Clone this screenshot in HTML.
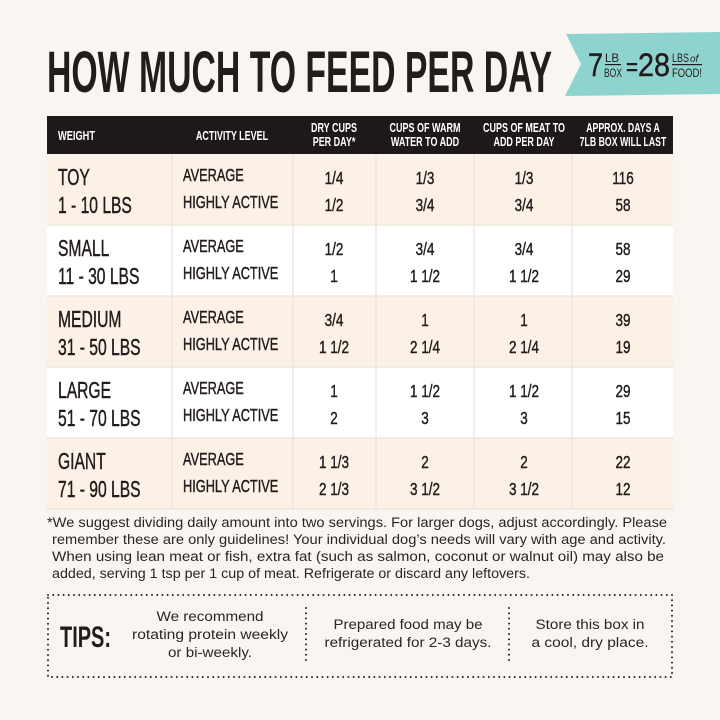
<!DOCTYPE html>
<html><head><meta charset="utf-8"><style>
html,body{margin:0;padding:0;background:#f9f6f1;}
svg{display:block}
.c{font-family:"Liberation Sans",sans-serif;fill:#231c1c}
.b{font-weight:bold}
.w{fill:#fff}
.f{font-family:"Liberation Sans",sans-serif;fill:#2a2424;font-size:13.4px}
.t{stroke:#231c1c;stroke-width:.45}
</style></head><body>
<svg width="720" height="720" viewBox="0 0 720 720" xmlns="http://www.w3.org/2000/svg">
<rect width="720" height="720" fill="#f9f6f1"/>
<text class="c b" x="47" y="92" font-size="58" textLength="505" lengthAdjust="spacingAndGlyphs">HOW MUCH TO FEED PER DAY</text>
<polygon points="566,34 720,32 720,94 565,96 581,64" fill="#8fd3cf"/>
<text class="c t" x="588" y="76" font-size="32" textLength="15" lengthAdjust="spacingAndGlyphs">7</text>
<text class="c" x="605" y="62" font-size="12" textLength="14" lengthAdjust="spacingAndGlyphs">LB</text>
<rect x="605" y="64" width="16" height="1.2" fill="#231c1c"/>
<text class="c" x="604" y="77" font-size="12" textLength="18" lengthAdjust="spacingAndGlyphs">BOX</text>
<text class="c t" x="626" y="75" font-size="24" textLength="12" lengthAdjust="spacingAndGlyphs">=</text>
<text class="c t" x="638" y="76" font-size="32" textLength="32" lengthAdjust="spacingAndGlyphs">28</text>
<text class="c" x="672" y="62" font-size="12" textLength="17" lengthAdjust="spacingAndGlyphs">LBS</text>
<text class="c" x="690" y="62" font-size="10" font-style="italic" font-family="Liberation Serif,serif">of</text>
<rect x="672" y="64" width="30" height="1.2" fill="#231c1c"/>
<text class="c" x="672" y="77" font-size="12" textLength="30" lengthAdjust="spacingAndGlyphs">FOOD!</text>

<rect x="47" y="116" width="626" height="38" fill="#1f1818"/>
<g class="c b w" font-size="12.5">
<text class="w" transform="translate(58,140) scale(.74,1)">WEIGHT</text>
<text class="w" text-anchor="middle" transform="translate(232,140) scale(.72,1)">ACTIVITY LEVEL</text>
<text class="w" text-anchor="middle" transform="translate(334,132) scale(.72,1)">DRY CUPS</text>
<text class="w" text-anchor="middle" transform="translate(334,146) scale(.72,1)">PER DAY*</text>
<text class="w" text-anchor="middle" transform="translate(425,132) scale(.72,1)">CUPS OF WARM</text>
<text class="w" text-anchor="middle" transform="translate(425,146) scale(.72,1)">WATER TO ADD</text>
<text class="w" text-anchor="middle" transform="translate(524,132) scale(.72,1)">CUPS OF MEAT TO</text>
<text class="w" text-anchor="middle" transform="translate(524,146) scale(.72,1)">ADD PER DAY</text>
<text class="w" text-anchor="middle" transform="translate(623,132) scale(.7,1)">APPROX. DAYS A</text>
<text class="w" text-anchor="middle" transform="translate(623,146) scale(.7,1)">7LB BOX WILL LAST</text>
</g>

<rect x="47" y="154" width="626" height="71" fill="#fbf1e7"/>
<rect x="47" y="225" width="626" height="71" fill="#ffffff"/>
<rect x="47" y="296" width="626" height="71" fill="#fbf1e7"/>
<rect x="47" y="367" width="626" height="71" fill="#ffffff"/>
<rect x="47" y="438" width="626" height="71" fill="#fbf1e7"/>
<g stroke="#ebe3da" stroke-width="1.2">
<line x1="172" y1="154" x2="172" y2="509"/><line x1="293" y1="154" x2="293" y2="509"/>
<line x1="376" y1="154" x2="376" y2="509"/><line x1="474" y1="154" x2="474" y2="509"/>
<line x1="572" y1="154" x2="572" y2="509"/>
<line x1="47" y1="225" x2="673" y2="225"/><line x1="47" y1="296" x2="673" y2="296"/>
<line x1="47" y1="367" x2="673" y2="367"/><line x1="47" y1="438" x2="673" y2="438"/>
<line x1="47" y1="509" x2="673" y2="509"/>
</g>

<g class="c t">
<g font-size="23"><text transform="translate(58,185) scale(.68,1)">TOY</text><text transform="translate(58,213) scale(.68,1)">1 - 10 LBS</text></g>
<g font-size="18"><text transform="translate(183,181) scale(.71,1)">AVERAGE</text><text transform="translate(183,208) scale(.71,1)">HIGHLY ACTIVE</text></g>
<g font-size="18" text-anchor="middle">
<text transform="translate(334,184) scale(.75,1)">1/4</text><text transform="translate(334,211) scale(.75,1)">1/2</text>
<text transform="translate(425,184) scale(.75,1)">1/3</text><text transform="translate(425,211) scale(.75,1)">3/4</text>
<text transform="translate(524,184) scale(.75,1)">1/3</text><text transform="translate(524,211) scale(.75,1)">3/4</text>
<text transform="translate(623,184) scale(.75,1)">116</text><text transform="translate(623,211) scale(.75,1)">58</text>
</g>
<g font-size="23"><text transform="translate(58,256) scale(.68,1)">SMALL</text><text transform="translate(58,284) scale(.68,1)">11 - 30 LBS</text></g>
<g font-size="18"><text transform="translate(183,252) scale(.71,1)">AVERAGE</text><text transform="translate(183,279) scale(.71,1)">HIGHLY ACTIVE</text></g>
<g font-size="18" text-anchor="middle">
<text transform="translate(334,255) scale(.75,1)">1/2</text><text transform="translate(334,282) scale(.75,1)">1</text>
<text transform="translate(425,255) scale(.75,1)">3/4</text><text transform="translate(425,282) scale(.75,1)">1 1/2</text>
<text transform="translate(524,255) scale(.75,1)">3/4</text><text transform="translate(524,282) scale(.75,1)">1 1/2</text>
<text transform="translate(623,255) scale(.75,1)">58</text><text transform="translate(623,282) scale(.75,1)">29</text>
</g>
<g font-size="23"><text transform="translate(58,327) scale(.68,1)">MEDIUM</text><text transform="translate(58,355) scale(.68,1)">31 - 50 LBS</text></g>
<g font-size="18"><text transform="translate(183,323) scale(.71,1)">AVERAGE</text><text transform="translate(183,350) scale(.71,1)">HIGHLY ACTIVE</text></g>
<g font-size="18" text-anchor="middle">
<text transform="translate(334,326) scale(.75,1)">3/4</text><text transform="translate(334,353) scale(.75,1)">1 1/2</text>
<text transform="translate(425,326) scale(.75,1)">1</text><text transform="translate(425,353) scale(.75,1)">2 1/4</text>
<text transform="translate(524,326) scale(.75,1)">1</text><text transform="translate(524,353) scale(.75,1)">2 1/4</text>
<text transform="translate(623,326) scale(.75,1)">39</text><text transform="translate(623,353) scale(.75,1)">19</text>
</g>
<g font-size="23"><text transform="translate(58,398) scale(.68,1)">LARGE</text><text transform="translate(58,426) scale(.68,1)">51 - 70 LBS</text></g>
<g font-size="18"><text transform="translate(183,394) scale(.71,1)">AVERAGE</text><text transform="translate(183,421) scale(.71,1)">HIGHLY ACTIVE</text></g>
<g font-size="18" text-anchor="middle">
<text transform="translate(334,397) scale(.75,1)">1</text><text transform="translate(334,424) scale(.75,1)">2</text>
<text transform="translate(425,397) scale(.75,1)">1 1/2</text><text transform="translate(425,424) scale(.75,1)">3</text>
<text transform="translate(524,397) scale(.75,1)">1 1/2</text><text transform="translate(524,424) scale(.75,1)">3</text>
<text transform="translate(623,397) scale(.75,1)">29</text><text transform="translate(623,424) scale(.75,1)">15</text>
</g>
<g font-size="23"><text transform="translate(58,469) scale(.68,1)">GIANT</text><text transform="translate(58,497) scale(.68,1)">71 - 90 LBS</text></g>
<g font-size="18"><text transform="translate(183,465) scale(.71,1)">AVERAGE</text><text transform="translate(183,492) scale(.71,1)">HIGHLY ACTIVE</text></g>
<g font-size="18" text-anchor="middle">
<text transform="translate(334,468) scale(.75,1)">1 1/3</text><text transform="translate(334,495) scale(.75,1)">2 1/3</text>
<text transform="translate(425,468) scale(.75,1)">2</text><text transform="translate(425,495) scale(.75,1)">3 1/2</text>
<text transform="translate(524,468) scale(.75,1)">2</text><text transform="translate(524,495) scale(.75,1)">3 1/2</text>
<text transform="translate(623,468) scale(.75,1)">22</text><text transform="translate(623,495) scale(.75,1)">12</text>
</g>
</g>

<text class="f" x="47" y="527" textLength="620" lengthAdjust="spacingAndGlyphs">*We suggest dividing daily amount into two servings. For larger dogs, adjust accordingly. Please</text>
<text class="f" x="52" y="544" textLength="614" lengthAdjust="spacingAndGlyphs">remember these are only guidelines! Your individual dog’s needs will vary with age and activity.</text>
<text class="f" x="52" y="561" textLength="612" lengthAdjust="spacingAndGlyphs">When using lean meat or fish, extra fat (such as salmon, coconut or walnut oil) may also be</text>
<text class="f" x="52" y="578" textLength="478" lengthAdjust="spacingAndGlyphs">added, serving 1 tsp per 1 cup of meat. Refrigerate or discard any leftovers.</text>

<g stroke="#2a2424" stroke-width="2" stroke-dasharray="0 5.2" stroke-linecap="round" fill="none">
<rect x="48" y="595" width="624" height="82"/>
<line x1="306" y1="608" x2="306" y2="663"/>
<line x1="509" y1="608" x2="509" y2="663"/>
</g>
<text class="c b" x="60" y="647" font-size="30" textLength="51" lengthAdjust="spacingAndGlyphs">TIPS:</text>
<g class="f" font-size="15" text-anchor="middle">
<text x="210" y="621" textLength="107" lengthAdjust="spacingAndGlyphs">We recommend</text>
<text x="210" y="639" textLength="156" lengthAdjust="spacingAndGlyphs">rotating protein weekly</text>
<text x="210" y="657" textLength="84" lengthAdjust="spacingAndGlyphs">or bi-weekly.</text>
<text x="408" y="629" textLength="149" lengthAdjust="spacingAndGlyphs">Prepared food may be</text>
<text x="408" y="647" textLength="167" lengthAdjust="spacingAndGlyphs">refrigerated for 2-3 days.</text>
<text x="590" y="629" textLength="109" lengthAdjust="spacingAndGlyphs">Store this box in</text>
<text x="590" y="647" textLength="117" lengthAdjust="spacingAndGlyphs">a cool, dry place.</text>
</g>
</svg>
</body></html>
